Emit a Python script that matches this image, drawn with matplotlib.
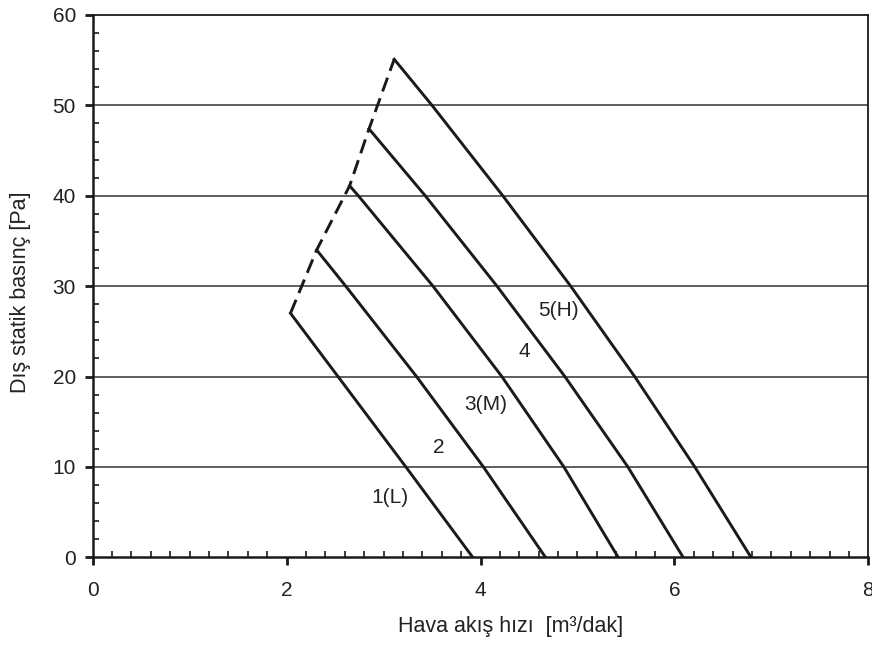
import numpy as np
import matplotlib
matplotlib.use("Agg")
import matplotlib.pyplot as plt
from matplotlib.ticker import MultipleLocator

plt.rcParams['font.family'] = ['Liberation Sans', 'DejaVu Sans']

# fan speed curves: airflow [m3/dak] vs pressure [Pa]
x_L = [2.04, 2.53, 3.23, 3.92]
y_L = [27, 20, 10, 0]
x_2 = [2.31, 2.61, 3.34, 4.03, 4.67]
y_2 = [34, 30, 20, 10, 0]
x_M = [2.65, 2.74, 3.51, 4.22, 4.86, 5.42]
y_M = [41.1, 40, 30, 20, 10, 0]
x_4 = [2.85, 3.43, 4.17, 4.87, 5.52, 6.09]
y_4 = [47.4, 40, 30, 20, 10, 0]
x_H = [3.11, 3.50, 4.23, 4.93, 5.59, 6.21, 6.79]
y_H = [55.1, 50, 40, 30, 20, 10, 0]

labels = ['1(L)', '2', '3(M)', '4', '5(H)']
label_x = [3.07, 3.57, 4.05, 4.45, 4.80]
label_y = [6.6, 12.2, 16.9, 22.8, 27.3]

curves = [(x_L, y_L), (x_2, y_2), (x_M, y_M), (x_4, y_4), (x_H, y_H)]

fig = plt.figure(figsize=(8.72, 6.46), dpi=100)
ax = fig.add_axes([0.1063, 0.1373, 0.8895, 0.8395])

ax.set_xlim(0, 8)
ax.set_ylim(0, 60)

for y in [10, 20, 30, 40, 50]:
    ax.axhline(y, color='#333333', lw=1.1, zorder=1)

for cx, cy in curves:
    ax.plot(cx, cy, color='#1a1a1a', lw=2.1, zorder=3, solid_joinstyle='round')

# dashed line joining the top end of each curve
top_x = [c[0][0] for c in curves]
top_y = [c[1][0] for c in curves]
ax.plot(top_x, top_y, color='#1a1a1a', lw=2.1, ls=(0, (5, 2.5)), zorder=3)

for t, lx, ly in zip(labels, label_x, label_y):
    ax.text(lx, ly, t, fontsize=15, color='#222222', ha='center', va='center',
            bbox=dict(facecolor='white', edgecolor='none', pad=0.5), zorder=4)

ax.xaxis.set_major_locator(MultipleLocator(2))
ax.xaxis.set_minor_locator(MultipleLocator(0.2))
ax.yaxis.set_major_locator(MultipleLocator(10))
ax.yaxis.set_minor_locator(MultipleLocator(2))
ax.tick_params(which='major', direction='out', length=6, width=2, labelsize=15,
               colors='#1a1a1a', labelcolor='#222222')
ax.tick_params(axis='x', which='major', pad=11)
ax.tick_params(axis='y', which='major', pad=6)
ax.tick_params(which='minor', direction='in', length=4, width=1.2, colors='#1a1a1a')

for s in ['left', 'bottom']:
    ax.spines[s].set_linewidth(1.8)
for s in ['top', 'right']:
    ax.spines[s].set_linewidth(1.3)
for s in ax.spines.values():
    s.set_color('#1a1a1a')

ax.set_xlabel('Hava akış hızı  [m³/dak]', fontsize=15.5, color='#222222', va='center')
ax.xaxis.set_label_coords(0.539, -0.127)
ax.set_ylabel('Dış statik basınç [Pa]', fontsize=15.5, color='#222222', va='center')
ax.yaxis.set_label_coords(-0.0935, 0.489)

fig.savefig('out.png', dpi=100)
